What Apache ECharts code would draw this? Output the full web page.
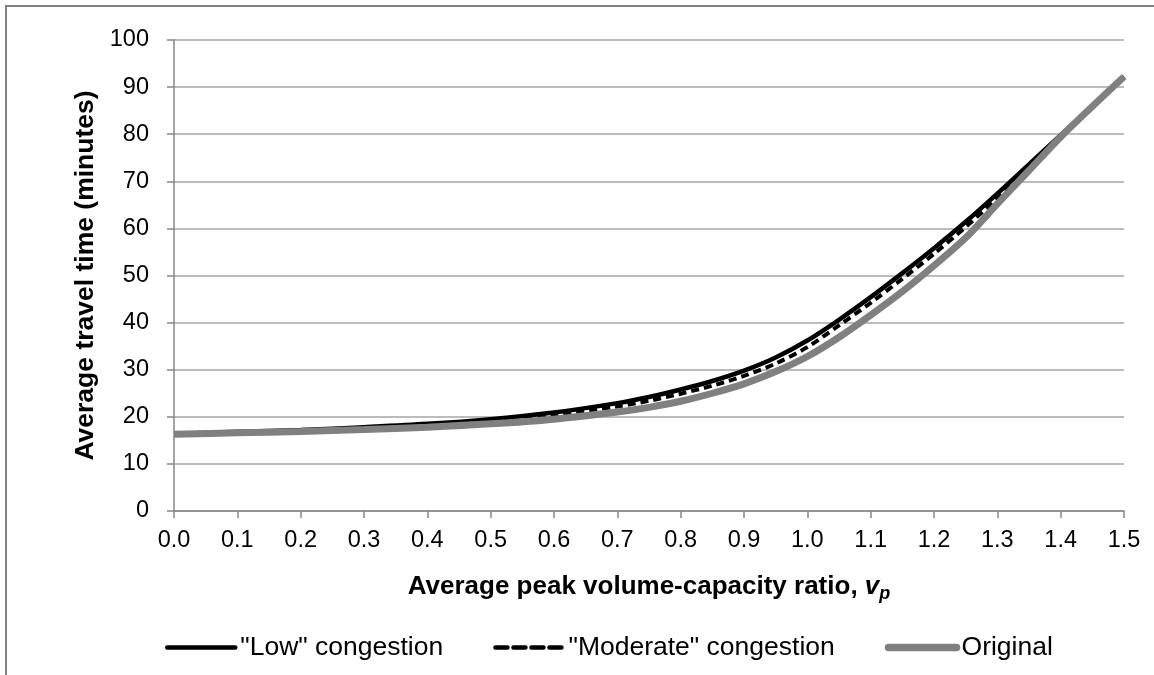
<!DOCTYPE html>
<html><head><meta charset="utf-8">
<script src="https://cdn.jsdelivr.net/npm/echarts@6/dist/echarts.min.js"></script>
<style>html,body{margin:0;padding:0;background:#fff}#c{width:1154px;height:675px}</style>
</head><body><div id="c"></div>
<script>
const vp = [0.0,0.1,0.2,0.3,0.4,0.5,0.6,0.7,0.75,0.8,0.85,0.9,0.95,1.0,1.05,1.1,1.15,1.2,1.25,1.3,1.35,1.4,1.45,1.5];
const lowCongestion = [16.4,16.8,17.2,17.8,18.5,19.5,20.9,22.9,24.2,25.8,27.6,29.8,32.6,36.2,40.6,45.4,50.5,55.8,61.4,67.4,73.6,79.8,86.0,92.3];
const moderateCongestion = [16.4,16.7,17.1,17.6,18.3,19.1,20.4,22.2,23.4,24.9,26.6,28.7,31.3,34.8,39.4,44.2,49.3,54.6,60.3,66.4,72.9,79.5,85.9,92.2];
const original = [16.3,16.6,16.9,17.3,17.8,18.5,19.5,21.0,22.0,23.3,25.0,27.0,29.6,32.8,36.9,41.6,46.6,52.1,58.0,65.2,72.3,79.4,85.9,92.2];
const seriesNames = ['"Low" congestion','"Moderate" congestion','Original'];
const yTitle = 'Average travel time (minutes)';

const pair = (ys) => vp.map((x,i)=>[x, ys[i]]);
const ARIAL = "'Liberation Sans', Arial, sans-serif";
const hideSym = {opacity:0, color:'rgba(0,0,0,0)', borderWidth:0};
const chart = echarts.init(document.getElementById('c'));
chart.setOption({
  animation:false,
  backgroundColor:'#fff',
  graphic:[{type:'rect',shape:{x:6,y:6,width:1160,height:680},style:{fill:'none',stroke:'#808080',lineWidth:2},silent:true}],
  grid:{left:174,right:30,top:40,bottom:164},
  legend:{
    left:165, top:634, padding:0, itemWidth:68, itemHeight:14, itemGap:50,
    textStyle:{fontFamily:ARIAL,fontSize:26.5,color:'#000'},
    data:[
      {name:seriesNames[0], itemStyle:hideSym, lineStyle:{color:'#000',width:4.5,type:'solid',cap:'round'}},
      {name:seriesNames[1], itemStyle:hideSym, lineStyle:{color:'#000',width:4.5,type:[12,6],cap:'round'}},
      {name:seriesNames[2], itemStyle:hideSym, lineStyle:{color:'#808080',width:7.5,type:'solid',cap:'round'}}
    ]
  },
  xAxis:{
    type:'value', min:0, max:1.5, interval:0.1,
    name:'Average peak volume-capacity ratio, {i|v}{s|p}',
    nameLocation:'middle', nameGap:60,
    nameTextStyle:{fontFamily:ARIAL,fontSize:26,fontWeight:'bold',color:'#000',
      rich:{i:{fontFamily:ARIAL,fontSize:26,fontWeight:'bold',fontStyle:'italic',color:'#000'},
            s:{fontFamily:ARIAL,fontSize:18,fontWeight:'bold',fontStyle:'italic',color:'#000',verticalAlign:'bottom',padding:[14,0,0,0]}}},
    axisLine:{show:true,lineStyle:{color:'#868686',width:1.5}},
    axisTick:{show:true,length:7,lineStyle:{color:'#868686',width:1.5}},
    axisLabel:{fontFamily:ARIAL,fontSize:23.5,color:'#000',margin:18,formatter:v=>v.toFixed(1)},
    splitLine:{show:false}
  },
  yAxis:{
    type:'value', min:0, max:100, interval:10,
    name:yTitle, nameLocation:'middle', nameGap:75, nameRotate:90,
    nameTextStyle:{fontFamily:ARIAL,fontSize:26.5,fontWeight:'bold',color:'#000'},
    axisLine:{show:true,lineStyle:{color:'#868686',width:1.5}},
    axisTick:{show:true,length:7,lineStyle:{color:'#868686',width:1.5}},
    axisLabel:{fontFamily:ARIAL,fontSize:23.5,color:'#000',margin:25},
    splitLine:{show:true,lineStyle:{color:'#a6a6a6',width:1.5}}
  },
  series:[
    {name:seriesNames[0],type:'line',data:pair(lowCongestion),smooth:0.3,symbol:'none',z:2,
     lineStyle:{color:'#000',width:4.5},itemStyle:{color:'#000'}},
    {name:seriesNames[1],type:'line',data:pair(moderateCongestion),smooth:0.3,symbol:'none',z:3,
     lineStyle:{color:'#000',width:4,type:[8,5]},itemStyle:{color:'#000'}},
    {name:seriesNames[2],type:'line',data:pair(original),smooth:0.3,symbol:'none',z:4,
     lineStyle:{color:'#808080',width:7},itemStyle:{color:'#808080'}}
  ]
});
</script></body></html>
